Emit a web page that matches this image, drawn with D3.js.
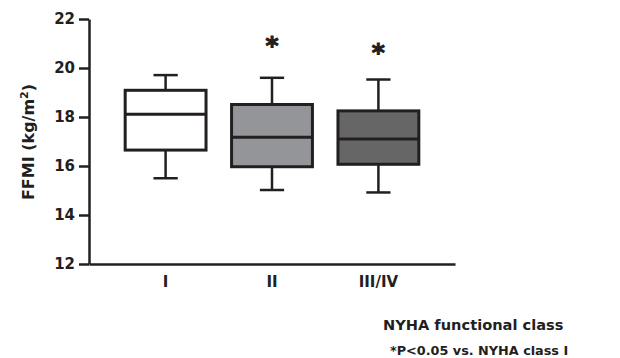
<!DOCTYPE html>
<meta charset="UTF-8">
<style>
body { margin: 0; background: #fff; }
svg text { font-family: "Century Gothic", "DejaVu Sans", sans-serif; font-weight: bold; fill: #231f20; }
.axis path, .axis line { stroke: #231f20; stroke-width: 2.5px; }
.box rect { stroke: #231f20; stroke-width: 3px; }
.box line { stroke: #231f20; stroke-width: 2.5px; }
</style>
<body>
<script src="https://d3js.org/d3.v7.min.js"></script>
<script>

var classes = ["I", "II", "III/IV"];
var whiskerLow = [15.5, 15.02, 14.92];
var q1 = [16.65, 15.97, 16.07];
var median = [18.11, 17.17, 17.1];
var q3 = [19.09, 18.51, 18.25];
var whiskerHigh = [19.71, 19.6, 19.53];
var fills = ["#ffffff", "#939598", "#666666"];
// level of the "*" marker (null = not significant)
var starLevel = [null, 20.95, 20.66];
var yTicks = [12, 14, 16, 18, 20, 22];

var svg = d3.select("body").append("svg")
    .attr("width", 620)
    .attr("height", 358);

var x = d3.scaleBand()
    .domain(classes)
    .range([89, 455])
    .paddingInner(0.24)
    .paddingOuter(0.34);

var y = d3.scaleLinear()
    .domain([12, 22])
    .range([264, 19]);

// axes
svg.append("g")
    .attr("class", "axis")
    .attr("transform", "translate(89,0)")
    .call(d3.axisLeft(y).tickValues(yTicks).tickSize(10).tickSizeOuter(0).tickPadding(4))
    .call(function(g) {
      g.selectAll("text").style("font-size", "15px");
    });

svg.append("g")
    .attr("class", "axis")
    .attr("transform", "translate(0,264)")
    .call(d3.axisBottom(x).tickSize(0).tickSizeOuter(0).tickPadding(12))
    .call(function(g) {
      g.selectAll("text").style("font-size", "15px");
    });

var data = classes.map(function(c, i) {
  return { name: c, lo: whiskerLow[i], q1: q1[i], med: median[i],
           q3: q3[i], hi: whiskerHigh[i], fill: fills[i], star: starLevel[i] };
});

var bw = x.bandwidth();
var cap = bw * 0.3;

var box = svg.selectAll("g.box")
    .data(data)
  .enter().append("g")
    .attr("class", "box")
    .attr("transform", function(d) { return "translate(" + (x(d.name) + bw / 2) + ",0)"; });

box.append("line")
    .attr("x1", 0).attr("x2", 0)
    .attr("y1", function(d) { return y(d.hi); })
    .attr("y2", function(d) { return y(d.q3); });

box.append("line")
    .attr("x1", 0).attr("x2", 0)
    .attr("y1", function(d) { return y(d.q1); })
    .attr("y2", function(d) { return y(d.lo); });

box.append("line")
    .attr("x1", -cap / 2).attr("x2", cap / 2)
    .attr("y1", function(d) { return y(d.hi); })
    .attr("y2", function(d) { return y(d.hi); });

box.append("line")
    .attr("x1", -cap / 2).attr("x2", cap / 2)
    .attr("y1", function(d) { return y(d.lo); })
    .attr("y2", function(d) { return y(d.lo); });

box.append("rect")
    .attr("x", -bw / 2)
    .attr("width", bw)
    .attr("y", function(d) { return y(d.q3); })
    .attr("height", function(d) { return y(d.q1) - y(d.q3); })
    .attr("fill", function(d) { return d.fill; });

box.append("line")
    .attr("x1", -bw / 2).attr("x2", bw / 2)
    .attr("y1", function(d) { return y(d.med); })
    .attr("y2", function(d) { return y(d.med); })
    .style("stroke-width", "3px");

// significance stars
box.filter(function(d) { return d.star != null; })
  .append("text")
    .attr("text-anchor", "middle")
    .attr("y", function(d) { return y(d.star); })
    .attr("dy", "0.38em")
    .style("font-size", "25px")
    .style("stroke", "#231f20")
    .style("stroke-width", "1px")
    .text("*");

// titles
svg.append("text")
    .attr("transform", "translate(34,142) rotate(-90)")
    .attr("text-anchor", "middle")
    .style("font-size", "16px")
    .html("FFMI (kg/m<tspan dy='-6' style='font-size:11px'>2</tspan><tspan dy='6'>)</tspan>");

svg.append("text")
    .attr("x", 383)
    .attr("y", 330)
    .style("font-size", "14.6px")
    .text("NYHA functional class");

svg.append("text")
    .attr("x", 390)
    .attr("y", 355)
    .style("font-size", "12.8px")
    .text("*P<0.05 vs. NYHA class I");

</script>
</body>
